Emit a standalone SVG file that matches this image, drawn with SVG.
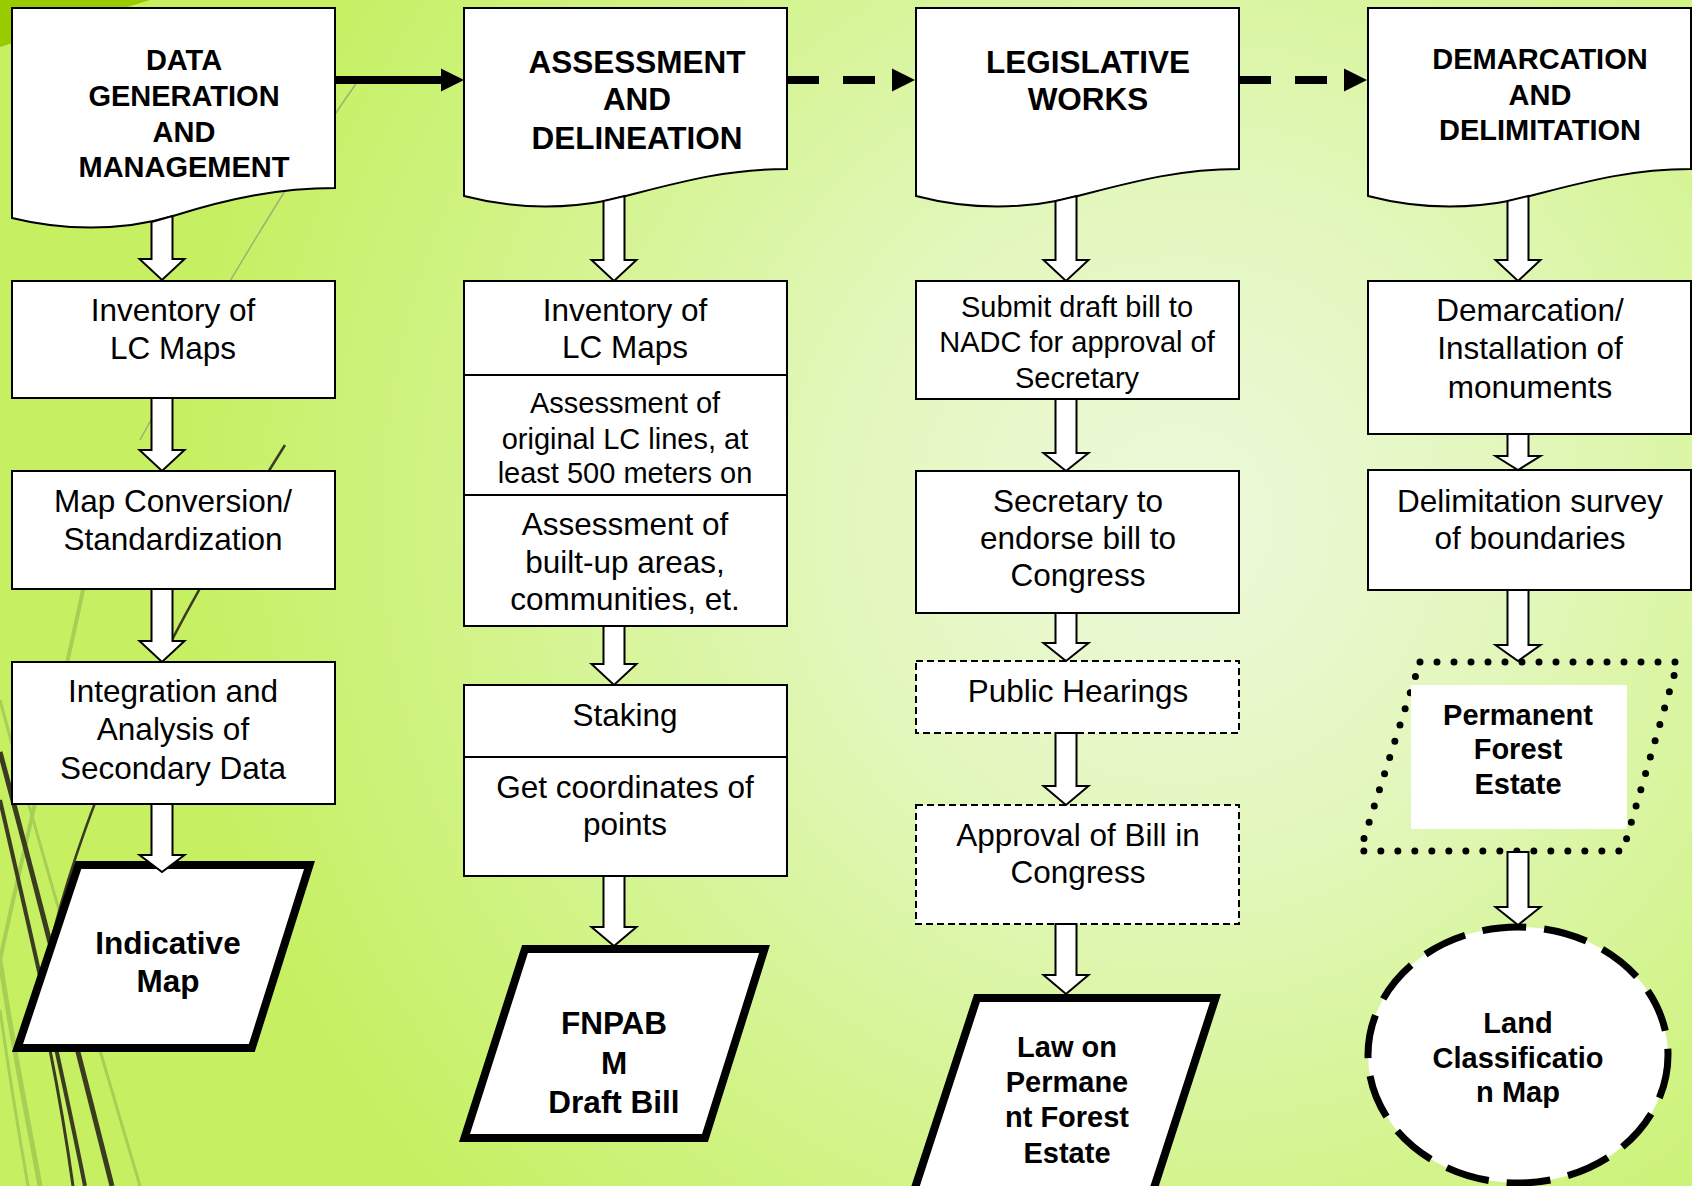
<svg xmlns="http://www.w3.org/2000/svg" width="1692" height="1186" viewBox="0 0 1692 1186">
<defs>
<radialGradient id="bg" cx="1180" cy="520" r="1000" gradientUnits="userSpaceOnUse">
<stop offset="0" stop-color="#eef9dc"/>
<stop offset="0.35" stop-color="#e2f7bb"/>
<stop offset="0.75" stop-color="#d0f383"/>
<stop offset="1" stop-color="#c6f062"/>
</radialGradient>
<style>
.box{fill:#fff;stroke:#000;stroke-width:2}
.dbox{fill:#fff;stroke:#000;stroke-width:2;stroke-dasharray:7 4}
.para{fill:#fff;stroke:#000;stroke-width:8;stroke-linejoin:miter}
.ba{fill:#fff;stroke:#000;stroke-width:2;stroke-linejoin:miter}
.t{font-family:"Liberation Sans",Arial,sans-serif;font-size:31.5px;fill:#000;text-anchor:middle}
.s{font-size:29px}
.b{font-weight:bold}
.h1{font-size:29px}
.h2{font-size:31.5px}
.deco{fill:none;stroke:#3b3b22}
.light{fill:none;stroke:#a6cf55}
</style>
</defs>
<rect x="0" y="0" width="1692" height="1186" fill="url(#bg)"/>
<g id="background-decor">
<polygon points="0,0 150,0 0,47" fill="#99cc00"/>
<path class="light" stroke-width="4" d="M83,590 C 60,700 30,820 0,960"/>
<path class="light" stroke-width="5" d="M0,960 C 15,1060 30,1130 40,1186"/>
<path class="light" stroke-width="3" d="M0,1010 C 10,1080 20,1140 28,1186"/>
<path class="light" stroke-width="3" d="M0,700 C 40,850 100,1050 140,1186"/>
<path fill="none" stroke="#9fb070" stroke-width="1.5" d="M360,78 Q 260,220 140,440"/>
<path class="deco" stroke-width="2.5" d="M285,445 C 200,580 120,730 85,830 C 60,900 45,960 42,990"/>
<path class="deco" stroke-width="3" d="M50,1050 C 60,1100 68,1150 73,1186"/>
<path class="deco" stroke-width="5" d="M0,752 C 40,900 80,1060 112,1186"/>
<path class="deco" stroke-width="4" d="M0,800 C 30,930 60,1060 85,1186"/>
</g>
<g id="nodes">
<g id="n-data-generation">
<path class="box" d="M12,8 H335 V188 C 280,188 230,198 173,216 C 120,232 60,230 12,218 Z"/>
<text class="t b h1"><tspan x="184" y="70">DATA</tspan><tspan x="184" y="106">GENERATION</tspan><tspan x="184" y="142">AND</tspan><tspan x="184" y="177">MANAGEMENT</tspan></text>
</g>
<g id="n-assessment">
<path class="box" d="M464,8 H787 V169 C 720,169 670,185 610,200 C 560,210 510,208 464,196 Z"/>
<text class="t b h2"><tspan x="637" y="73">ASSESSMENT</tspan><tspan x="637" y="110">AND</tspan><tspan x="637" y="149">DELINEATION</tspan></text>
</g>
<g id="n-legislative">
<path class="box" d="M916,8 H1239 V169 C 1172,169 1122,185 1062,200 C 1012,210 962,208 916,196 Z"/>
<text class="t b h2"><tspan x="1088" y="73">LEGISLATIVE</tspan><tspan x="1088" y="110">WORKS</tspan></text>
</g>
<g id="n-demarcation-head">
<path class="box" d="M1368,8 H1691 V169 C 1624,169 1574,185 1514,200 C 1464,210 1414,208 1368,196 Z"/>
<text class="t b h1"><tspan x="1540" y="69">DEMARCATION</tspan><tspan x="1540" y="105">AND</tspan><tspan x="1540" y="140">DELIMITATION</tspan></text>
</g>

<g id="n-inventory-1">
<rect class="box" x="12" y="281" width="323" height="117"/>
<text class="t"><tspan x="173" y="321">Inventory of</tspan><tspan x="173" y="359">LC Maps</tspan></text>
</g>
<g id="n-map-conversion">
<rect class="box" x="12" y="471" width="323" height="118"/>
<text class="t"><tspan x="173" y="512">Map Conversion/</tspan><tspan x="173" y="550">Standardization</tspan></text>
</g>
<g id="n-integration">
<rect class="box" x="12" y="662" width="323" height="142"/>
<text class="t"><tspan x="173" y="702">Integration and</tspan><tspan x="173" y="740">Analysis of</tspan><tspan x="173" y="779">Secondary Data</tspan></text>
</g>
<g id="n-indicative-map">
<polygon class="para" points="78.4,865 309.5,865 251.8,1048 17.5,1048"/>
<text class="t b"><tspan x="168" y="954">Indicative</tspan><tspan x="168" y="992">Map</tspan></text>
</g>

<g id="n-assessment-stack">
<rect class="box" x="464" y="281" width="323" height="345"/>
<line x1="464" y1="375" x2="787" y2="375" stroke="#000" stroke-width="2"/>
<line x1="464" y1="495" x2="787" y2="495" stroke="#000" stroke-width="2"/>
<text class="t"><tspan x="625" y="321">Inventory of</tspan><tspan x="625" y="358">LC Maps</tspan></text>
<text class="t s"><tspan x="625" y="413">Assessment of</tspan><tspan x="625" y="449">original LC lines, at</tspan><tspan x="625" y="483">least 500 meters on</tspan></text>
<text class="t"><tspan x="625" y="535">Assessment of</tspan><tspan x="625" y="573">built-up areas,</tspan><tspan x="625" y="610">communities, et.</tspan></text>
</g>
<g id="n-staking">
<rect class="box" x="464" y="685" width="323" height="191"/>
<line x1="464" y1="757" x2="787" y2="757" stroke="#000" stroke-width="2"/>
<text class="t"><tspan x="625" y="726">Staking</tspan></text>
<text class="t"><tspan x="625" y="798">Get coordinates of</tspan><tspan x="625" y="835">points</tspan></text>
</g>
<g id="n-fnpabm">
<polygon class="para" points="525,949 764.5,949 705,1138 464.5,1138"/>
<text class="t b"><tspan x="614" y="1034">FNPAB</tspan><tspan x="614" y="1074">M</tspan><tspan x="614" y="1113">Draft Bill</tspan></text>
</g>

<g id="n-submit">
<rect class="box" x="916" y="281" width="323" height="118"/>
<text class="t s"><tspan x="1077" y="317">Submit draft bill to</tspan><tspan x="1077" y="352">NADC for approval of</tspan><tspan x="1077" y="388">Secretary</tspan></text>
</g>
<g id="n-secretary">
<rect class="box" x="916" y="471" width="323" height="142"/>
<text class="t"><tspan x="1078" y="512">Secretary to</tspan><tspan x="1078" y="549">endorse bill to</tspan><tspan x="1078" y="586">Congress</tspan></text>
</g>
<g id="n-public-hearings">
<rect class="dbox" x="916" y="661" width="323" height="72"/>
<text class="t"><tspan x="1078" y="702">Public Hearings</tspan></text>
</g>
<g id="n-approval">
<rect class="dbox" x="916" y="805" width="323" height="119"/>
<text class="t"><tspan x="1078" y="846">Approval of Bill in</tspan><tspan x="1078" y="883">Congress</tspan></text>
</g>
<g id="n-law">
<polygon class="para" points="977,998 1215.5,998 1152,1194 913,1194"/>
<text class="t b s"><tspan x="1067" y="1057">Law on</tspan><tspan x="1067" y="1092">Permane</tspan><tspan x="1067" y="1127">nt Forest</tspan><tspan x="1067" y="1163">Estate</tspan></text>
</g>

<g id="n-demarcation">
<rect class="box" x="1368" y="281" width="323" height="153"/>
<text class="t"><tspan x="1530" y="321">Demarcation/</tspan><tspan x="1530" y="359">Installation of</tspan><tspan x="1530" y="398">monuments</tspan></text>
</g>
<g id="n-delimitation">
<rect class="box" x="1368" y="470" width="323" height="120"/>
<text class="t"><tspan x="1530" y="512">Delimitation survey</tspan><tspan x="1530" y="549">of boundaries</tspan></text>
</g>
<g id="n-permanent-forest">
<polygon points="1420,662 1678,662 1623,851 1360,851" fill="none" stroke="#000" stroke-width="7" stroke-dasharray="0 17" stroke-linecap="round"/>
<rect x="1411" y="685" width="216" height="144" fill="#fff"/>
<text class="t b s"><tspan x="1518" y="725">Permanent</tspan><tspan x="1518" y="759">Forest</tspan><tspan x="1518" y="794">Estate</tspan></text>
</g>
<g id="n-lc-map">
<ellipse cx="1518" cy="1055" rx="150" ry="128" fill="#fff" stroke="#000" stroke-width="7" stroke-dasharray="44 18"/>
<text class="t b s"><tspan x="1518" y="1033">Land</tspan><tspan x="1518" y="1068">Classificatio</tspan><tspan x="1518" y="1102">n Map</tspan></text>
</g>
</g>

<g id="connectors">
<line x1="335" y1="80" x2="443" y2="80" stroke="#000" stroke-width="8"/>
<polygon points="441,68.5 464,80 441,91.5" fill="#000"/>
<line x1="787" y1="80" x2="875" y2="80" stroke="#000" stroke-width="8" stroke-dasharray="32 24"/>
<polygon points="892,68.5 915,80 892,91.5" fill="#000"/>
<line x1="1239" y1="80" x2="1327" y2="80" stroke="#000" stroke-width="8" stroke-dasharray="32 24"/>
<polygon points="1344,68.5 1367,80 1344,91.5" fill="#000"/>

<path class="ba" d="M151.5,222 V259 H139.5 L162,280 L184.5,259 H172.5 V216 Z"/>
<path class="ba" d="M151.5,398 V450 H139.5 L162,471 L184.5,450 H172.5 V398 Z"/>
<path class="ba" d="M151.5,589 V641 H139.5 L162,662 L184.5,641 H172.5 V589 Z"/>
<path class="ba" d="M151.5,804 V855 H139.5 L162,872 L184.5,855 H172.5 V804 Z"/>

<path class="ba" d="M603.5,201 V260 H591.5 L614,281 L636.5,260 H624.5 V196 Z"/>
<path class="ba" d="M603.5,626 V664 H591.5 L614,685 L636.5,664 H624.5 V626 Z"/>
<path class="ba" d="M603.5,876 V927 H591.5 L614,946 L636.5,927 H624.5 V876 Z"/>

<path class="ba" d="M1055.5,201 V260 H1043.5 L1066,281 L1088.5,260 H1076.5 V196 Z"/>
<path class="ba" d="M1055.5,399 V453 H1043.5 L1066,471 L1088.5,453 H1076.5 V399 Z"/>
<path class="ba" d="M1055.5,613 V643 H1043.5 L1066,661 L1088.5,643 H1076.5 V613 Z"/>
<path class="ba" d="M1055.5,733 V786 H1043.5 L1066,805 L1088.5,786 H1076.5 V733 Z"/>
<path class="ba" d="M1055.5,924 V975 H1043.5 L1066,994 L1088.5,975 H1076.5 V924 Z"/>

<path class="ba" d="M1507.5,201 V260 H1495.5 L1518,281 L1540.5,260 H1528.5 V196 Z"/>
<path class="ba" d="M1507.5,434 V456 H1495.5 L1518,470 L1540.5,456 H1528.5 V434 Z"/>
<path class="ba" d="M1507.5,590 V645 H1495.5 L1518,661 L1540.5,645 H1528.5 V590 Z"/>
<path class="ba" d="M1507.5,852 V907 H1495.5 L1518,925 L1540.5,907 H1528.5 V852 Z"/>
</g>
</svg>
